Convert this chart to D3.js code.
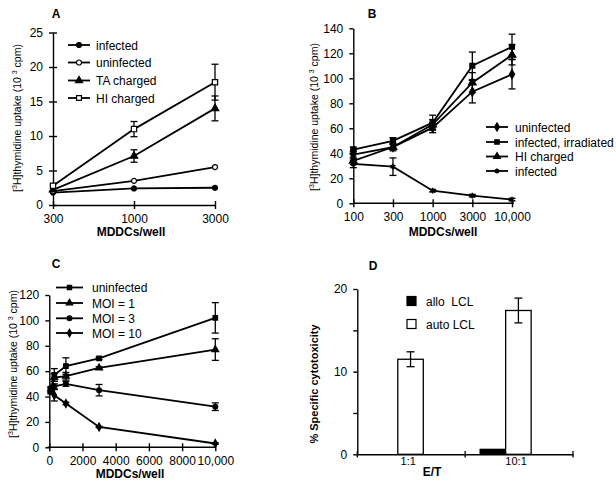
<!DOCTYPE html>
<html><head><meta charset="utf-8">
<script src="https://cdn.jsdelivr.net/npm/d3@7/dist/d3.min.js"></script>
<style>body{margin:0;background:#fff}svg{display:block}</style>
</head><body>
<svg id="c" width="616" height="485"></svg>
<script>
// ---------- DATA ----------
const aCats = ["300", "1000", "3000"];
const aInfected = [1.8, 2.4, 2.5];
const aInfectedErr = [0.2, 0.2, 0.3];
const aUninfected = [2.0, 3.5, 5.5];
const aUninfectedErr = [0.2, 0.2, 0.3];
const aTA = [2.2, 7.1, 14.0];
const aTAErr = [0.3, 0.9, 1.8];
const aHI = [2.8, 11.0, 17.8];
const aHIErr = [0.3, 1.1, 2.6];
const aYTicks = [0, 5, 10, 15, 20, 25];

const bCats = ["100", "300", "1000", "3000", "10,000"];
const bUninfected = [39, 45, 60.5, 89.3, 103.2];
const bUninfectedErr = [3, 2, 4, 9, 11.7];
const bIrradiated = [43, 50, 64.5, 110, 125.3];
const bIrradiatedErr = [2, 2.5, 6, 11, 10];
const bHI = [34, 45, 63, 96.5, 118.7];
const bHIErr = [3, 3, 4, 8, 8];
const bInfected = [31.5, 29.3, 10.1, 6.1, 3];
const bInfectedErr = [3, 7, 1, 1, 1];
const bYTicks = [0, 20, 40, 60, 80, 100, 120, 140];

const cX = [100, 300, 1000, 3000, 10000];
const cUninfected = [45, 57, 64, 70, 102];
const cUninfectedErr = [2, 5, 6.5, 1, 12];
const cMOI1 = [46, 55, 56, 62.5, 77];
const cMOI1Err = [2, 3, 3, 1, 8.5];
const cMOI3 = [44, 48, 50, 45, 32];
const cMOI3Err = [2, 2, 2, 4.5, 3];
const cMOI10 = [45, 41, 34.5, 16, 3];
const cMOI10Err = [2, 4.5, 1, 0.5, 0.5];
const cXTicks = [0, 2000, 4000, 6000, 8000, 10000];
const cXTickLabels = ["0", "2000", "4000", "6000", "8000", "10,000"];
const cYTicks = [0, 20, 40, 60, 80, 100, 120];

const dCats = ["1:1", "10:1"];
const dSeries = ["allo  LCL", "auto LCL"];
const dAllo = [0, 0.6];
const dAlloErr = [0, 0.1];
const dAuto = [11.5, 17.4];
const dAutoErr = [0.9, 1.5];
const dYTicks = [0, 5, 10, 15, 20];
const dYTickLabels = ["0", "", "10", "", "20"];

// ---------- DRAW ----------
const FONT = "'Liberation Sans', Arial, Helvetica, sans-serif";
const svg = d3.select("#c").style("font-family", FONT);
const SW = 1.8;

function symPath(kind, size) {
  const map = {circle: d3.symbolCircle, square: d3.symbolSquare, triangle: d3.symbolTriangle,
               diamond: d3.symbolDiamond, asterisk: d3.symbolAsterisk, times: d3.symbolTimes};
  return d3.symbol().type(map[kind]).size(size)();
}
function marker(g, x, y, kind, fill, size) {
  const p = g.append("path").attr("d", symPath(kind, size || 24))
    .attr("transform", `translate(${x},${y})`);
  if (kind === "asterisk" || kind === "times") {
    p.attr("fill", "none").attr("stroke", "#000").attr("stroke-width", 1.6);
  } else {
    p.attr("fill", fill).attr("stroke", "#000").attr("stroke-width", 1.2);
  }
}
function errBar(g, x, y0, y1, cap) {
  g.append("line").attr("x1", x).attr("x2", x).attr("y1", y0).attr("y2", y1)
    .attr("stroke", "#000").attr("stroke-width", 1.3);
  [y0, y1].forEach(yy => g.append("line").attr("x1", x - cap).attr("x2", x + cap)
    .attr("y1", yy).attr("y2", yy).attr("stroke", "#000").attr("stroke-width", 1.3));
}
function series(g, xs, vals, errs, x, y, kind, fill, size) {
  const pts = xs.map((c, i) => [x(c), y(vals[i])]);
  xs.forEach((c, i) => {
    if (errs[i] > 0.4) errBar(g, x(c), y(vals[i] + errs[i]), y(vals[i] - errs[i]), 3.5);
  });
  g.append("path").attr("d", d3.line()(pts)).attr("fill", "none")
    .attr("stroke", "#000").attr("stroke-width", SW);
  pts.forEach(p => marker(g, p[0], p[1], kind, fill, size));
}
function styleAxis(ax, cross, dir) {
  ax.selectAll("path.domain").attr("stroke", "#000").attr("stroke-width", 1.4);
  ax.selectAll(".tick line").attr("stroke", "#000").attr("stroke-width", 1.4);
  if (cross) {
    if (dir === "left") ax.selectAll(".tick line").attr("x1", 4);
    else ax.selectAll(".tick line").attr("y1", -4);
  }
  ax.selectAll("text").attr("font-family", FONT).attr("font-size", 12).attr("fill", "#000");
}
function yTitle(x, y, size, bold) {
  return svg.append("text").attr("transform", `translate(${x},${y}) rotate(-90)`)
    .attr("text-anchor", "middle").attr("font-size", size).attr("font-weight", bold ? "bold" : "normal");
}
function thymTitle(x, y) {
  const t = yTitle(x, y, 10.5, false);
  t.append("tspan").text("[");
  t.append("tspan").attr("font-size", 7).attr("dy", -4).text("3");
  t.append("tspan").attr("dy", 4).text("H]thymidine uptake (10 ");
  t.append("tspan").attr("font-size", 7).attr("dy", -4).text("3");
  t.append("tspan").attr("dy", 4).text(" cpm)");
}
function legend(g, items, x0, x1, xt, ys) {
  items.forEach((it, i) => {
    g.append("line").attr("x1", x0).attr("x2", x1).attr("y1", ys[i]).attr("y2", ys[i])
      .attr("stroke", "#000").attr("stroke-width", SW);
    marker(g, (x0 + x1) / 2, ys[i], it.kind, it.fill, it.size || 20);
    g.append("text").attr("x", xt).attr("y", ys[i] + 4.5).attr("font-size", 12).text(it.label);
  });
}
function letter(t, x, y) {
  svg.append("text").attr("x", x).attr("y", y).attr("font-size", 12).attr("font-weight", "bold")
    .attr("text-anchor", "middle").text(t);
}
function xTitle(t, x, y) {
  svg.append("text").attr("x", x).attr("y", y).attr("font-size", 12).attr("font-weight", "bold")
    .attr("text-anchor", "middle").text(t);
}

// ----- Panel A -----
{
  const g = svg.append("g");
  const x = d3.scalePoint().domain(aCats).range([53, 215]);
  const y = d3.scaleLinear().domain([0, 25]).range([205, 32.5]);
  const ay = g.append("g").attr("transform", "translate(53,0)")
    .call(d3.axisLeft(y).tickValues(aYTicks).tickSize(4).tickSizeOuter(0).tickPadding(6));
  styleAxis(ay, true, "left");
  const ax = g.append("g").attr("transform", "translate(0,205)")
    .call(d3.axisBottom(x).tickSize(4).tickSizeOuter(0).tickPadding(5));
  styleAxis(ax, true, "bottom");
  series(g, aCats, aInfected, aInfectedErr, x, y, "circle", "#000", 20);
  series(g, aCats, aUninfected, aUninfectedErr, x, y, "circle", "#fff", 20);
  series(g, aCats, aTA, aTAErr, x, y, "triangle", "#000", 24);
  series(g, aCats, aHI, aHIErr, x, y, "square", "#fff", 28);
  legend(g, [
    {label: "infected", kind: "circle", fill: "#000"},
    {label: "uninfected", kind: "circle", fill: "#fff"},
    {label: "TA charged", kind: "triangle", fill: "#000", size: 22},
    {label: "HI charged", kind: "square", fill: "#fff", size: 24}
  ], 68, 90, 96, [45, 62.5, 80.5, 98]);
  letter("A", 56, 18);
  xTitle("MDDCs/well", 131, 236);
  thymTitle(21, 118);
}

// ----- Panel B -----
{
  const g = svg.append("g");
  const x = d3.scalePoint().domain(bCats).range([353.3, 512]);
  const y = d3.scaleLinear().domain([0, 140]).range([203.3, 28.3]);
  const ay = g.append("g").attr("transform", "translate(353.3,0)")
    .call(d3.axisLeft(y).tickValues(bYTicks).tickSize(4).tickSizeOuter(0).tickPadding(6));
  styleAxis(ay, false, "left");
  const ax = g.append("g").attr("transform", "translate(0,203.3)")
    .call(d3.axisBottom(x).tickSize(4).tickSizeOuter(0).tickPadding(5));
  styleAxis(ax, true, "bottom");
  ax.select("path.domain").attr("d", "M353.3,0H514");
  series(g, bCats, bInfected, bInfectedErr, x, y, "asterisk", "#000", 22);
  series(g, bCats, bUninfected, bUninfectedErr, x, y, "diamond", "#000", 24);
  series(g, bCats, bHI, bHIErr, x, y, "triangle", "#000", 26);
  series(g, bCats, bIrradiated, bIrradiatedErr, x, y, "square", "#000", 24);
  legend(g, [
    {label: "uninfected", kind: "diamond", fill: "#000"},
    {label: "infected, irradiated", kind: "square", fill: "#000"},
    {label: "HI charged", kind: "triangle", fill: "#000"},
    {label: "infected", kind: "asterisk", fill: "#000", size: 18}
  ], 486, 508, 515, [127, 142, 156.5, 171]);
  letter("B", 372, 18);
  xTitle("MDDCs/well", 443, 236);
  thymTitle(318, 117);
}

// ----- Panel C -----
{
  const g = svg.append("g");
  const x = d3.scaleLinear().domain([0, 10000]).range([49.3, 215.3]);
  const y = d3.scaleLinear().domain([0, 120]).range([447.3, 295]);
  const ay = g.append("g").attr("transform", "translate(49.3,0)")
    .call(d3.axisLeft(y).tickValues(cYTicks).tickSize(4).tickSizeOuter(0).tickPadding(6));
  styleAxis(ay, false, "left");
  const ax = g.append("g").attr("transform", "translate(0,447.3)")
    .call(d3.axisBottom(x).tickValues(cXTicks).tickFormat((d, i) => cXTickLabels[i])
      .tickSize(4).tickSizeOuter(0).tickPadding(5));
  styleAxis(ax, true, "bottom");
  ax.select("path.domain").attr("d", "M47.5,0H216");
  series(g, cX, cMOI10, cMOI10Err, x, y, "diamond", "#000", 18);
  series(g, cX, cMOI3, cMOI3Err, x, y, "circle", "#000", 18);
  series(g, cX, cMOI1, cMOI1Err, x, y, "triangle", "#000", 20);
  series(g, cX, cUninfected, cUninfectedErr, x, y, "square", "#000", 20);
  legend(g, [
    {label: "uninfected", kind: "square", fill: "#000", size: 18},
    {label: "MOI = 1", kind: "triangle", fill: "#000", size: 18},
    {label: "MOI = 3", kind: "circle", fill: "#000", size: 18},
    {label: "MOI = 10", kind: "diamond", fill: "#000", size: 16}
  ], 56, 83, 92, [287.5, 303, 318.3, 333]);
  letter("C", 56, 268);
  xTitle("MDDCs/well", 130, 478);
  thymTitle(17, 364);
}

// ----- Panel D -----
{
  const g = svg.append("g");
  const x0 = d3.scaleBand().domain(dCats).range([357.3, 573]);
  const x1 = d3.scaleBand().domain(dSeries).range([15, 66]);
  const y = d3.scaleLinear().domain([0, 20]).range([454.3, 289]);
  const ay = g.append("g").attr("transform", "translate(357.3,0)")
    .call(d3.axisLeft(y).tickValues(dYTicks).tickFormat((d, i) => dYTickLabels[i])
      .tickSize(4).tickSizeOuter(0).tickPadding(6));
  styleAxis(ay, false, "left");
  const ax = g.append("g").attr("transform", "translate(0,454.3)")
    .call(d3.axisBottom(x0).tickSize(0).tickSizeOuter(0).tickPadding(3));
  styleAxis(ax, false, "bottom");
  ax.selectAll("text").attr("font-size", 11).attr("dx", -3);
  [357.3, x0("10:1"), 573].forEach(px => g.append("line").attr("x1", px).attr("x2", px)
    .attr("y1", 451).attr("y2", 457.5).attr("stroke", "#000").attr("stroke-width", 1.3));
  const vals = [dAllo, dAuto], errs = [dAlloErr, dAutoErr], fills = ["#000", "#fff"];
  dCats.forEach((c, i) => {
    dSeries.forEach((s, j) => {
      const v = vals[j][i];
      const bx = x0(c) + x1(s), bw = x1.bandwidth();
      g.append("rect").attr("x", bx).attr("y", y(v)).attr("width", bw)
        .attr("height", Math.max(0, y(0) - y(v))).attr("fill", fills[j])
        .attr("stroke", "#000").attr("stroke-width", 1.3);
      if (errs[j][i] > 0.3) errBar(g, bx + bw / 2, y(v + errs[j][i]), y(v - errs[j][i]), 4);
    });
  });
  const ly = [301, 324];
  dSeries.forEach((s, j) => {
    g.append("rect").attr("x", 407).attr("y", ly[j] - 4.5).attr("width", 9).attr("height", 9)
      .attr("fill", fills[j]).attr("stroke", "#000").attr("stroke-width", 1.2);
    g.append("text").attr("x", 426).attr("y", ly[j] + 4.5).attr("font-size", 12)
      .attr("xml:space", "preserve").style("white-space", "pre").text(s);
  });
  letter("D", 373, 270);
  xTitle("E/T", 432, 476);
  yTitle(318, 384, 11, true).text("% Specific cytotoxicity");
}
</script>
</body></html>
